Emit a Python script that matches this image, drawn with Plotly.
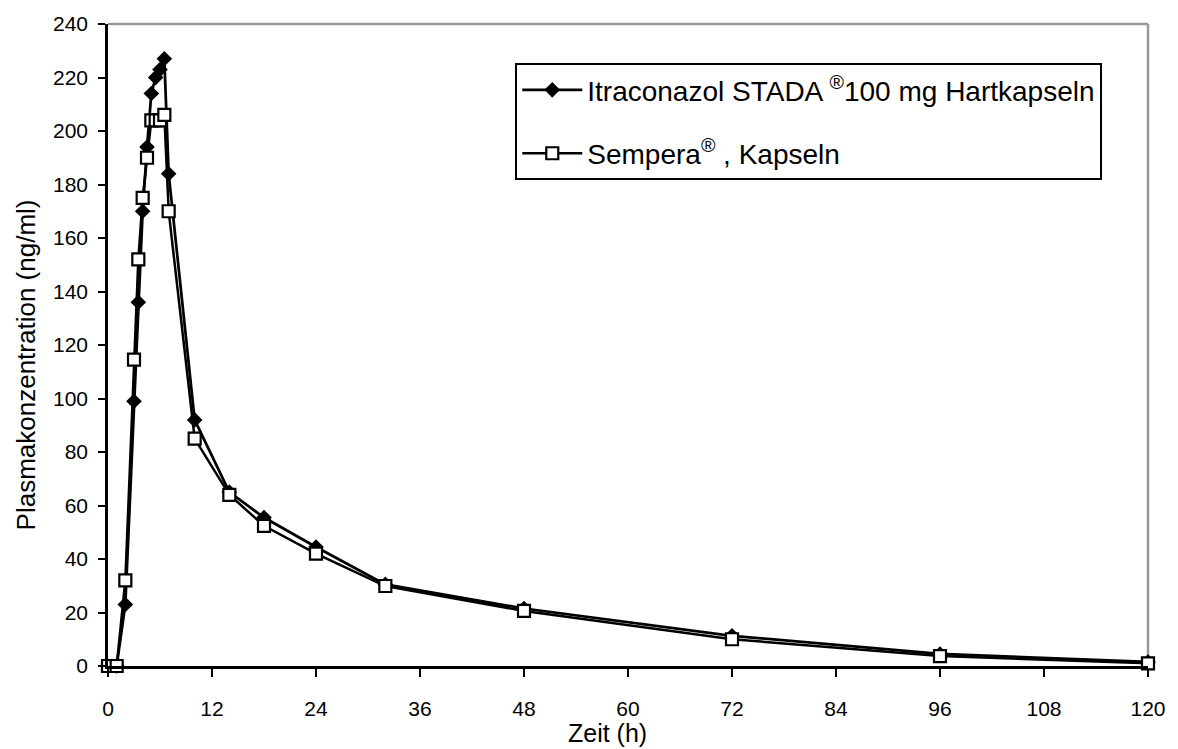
import plotly.graph_objects as go

time_h = [0, 1, 2, 3, 3.5, 4, 4.5, 5, 5.5, 6, 6.5, 7, 10, 14, 18, 24, 32, 48, 72, 96, 120]
itraconazol_stada = [0, 0, 23, 99, 136, 170, 194, 214, 220, 223, 227, 184, 92, 65, 55.5, 44.5, 30.5, 21.5, 11.3, 4.5, 1.5]
sempera = [0, 0, 32, 114.5, 152, 175, 190, 204, 204, 204, 206, 170, 85, 64, 52.4, 42, 29.9, 20.6, 10, 3.7, 1.0]

name_stada = "Itraconazol STADA <sup>®</sup>100 mg Hartkapseln"
name_sempera = "Sempera<sup>®</sup> , Kapseln"
x_title = "Zeit (h)"
y_title = "Plasmakonzentration (ng/ml)"

x_ticks = list(range(0, 121, 12))
y_ticks = list(range(0, 241, 20))

font_family = "Liberation Sans, Arial, sans-serif"

fig = go.Figure()
fig.add_trace(go.Scatter(
    x=time_h, y=itraconazol_stada, name=name_stada, mode="lines+markers",
    line=dict(color="black", width=2.75),
    marker=dict(symbol="diamond", size=12, color="black", line=dict(color="black", width=0)),
    legendgroup="a", cliponaxis=False,
))
fig.add_trace(go.Scatter(
    x=time_h, y=sempera, name=name_sempera, mode="lines+markers",
    line=dict(color="black", width=2.5),
    marker=dict(symbol="square", size=12, color="white", line=dict(color="black", width=2.2)),
    legendgroup="b", cliponaxis=False,
))

fig.update_layout(
    width=1178, height=749,
    margin=dict(l=108, r=23, t=20, b=83),
    paper_bgcolor="white", plot_bgcolor="white",
    font=dict(family=font_family, color="black", size=21),
    showlegend=True,
    legend=dict(
        x=0.3916, xanchor="left", y=0.939, yanchor="top",
        bordercolor="black", borderwidth=2, bgcolor="white",
        font=dict(size=28, family=font_family),
        itemwidth=60, tracegroupgap=24, traceorder="grouped",
        entrywidth=535, entrywidthmode="pixels",
    ),
    xaxis=dict(
        range=[0, 120], tickvals=x_ticks, ticks="outside", ticklen=8, tickwidth=2,
        tickcolor="black", showline=True, linecolor="black", linewidth=2.5,
        showgrid=False, zeroline=False, tickfont=dict(size=21),
        ticklabelstandoff=14,
    ),
    yaxis=dict(
        range=[0, 240], tickvals=y_ticks, ticks="outside", ticklen=7, tickwidth=2,
        tickcolor="black", showline=True, linecolor="black", linewidth=2.5,
        showgrid=False, zeroline=False, tickfont=dict(size=21),
        ticklabelstandoff=6,
    ),
    annotations=[
        dict(text=x_title, xref="paper", yref="paper", x=0.4804, y=-0.105,
             xanchor="center", yanchor="middle", showarrow=False, font=dict(size=25)),
        dict(text=y_title, xref="paper", yref="paper", x=-0.0793, y=0.469,
             xanchor="center", yanchor="middle", showarrow=False, textangle=-90,
             font=dict(size=26)),
    ],
    shapes=[
        dict(type="line", xref="paper", yref="paper", x0=0, x1=1, y0=1, y1=1,
             line=dict(color="#999999", width=2.5), layer="below"),
        dict(type="line", xref="paper", yref="paper", x0=1, x1=1, y0=0, y1=1,
             line=dict(color="#999999", width=2.5), layer="below"),
    ],
)

fig.write_html(
    "out.html",
    config={"displayModeBar": False},
    post_script="document.body.style.margin='0';document.body.style.overflow='hidden';",
)
